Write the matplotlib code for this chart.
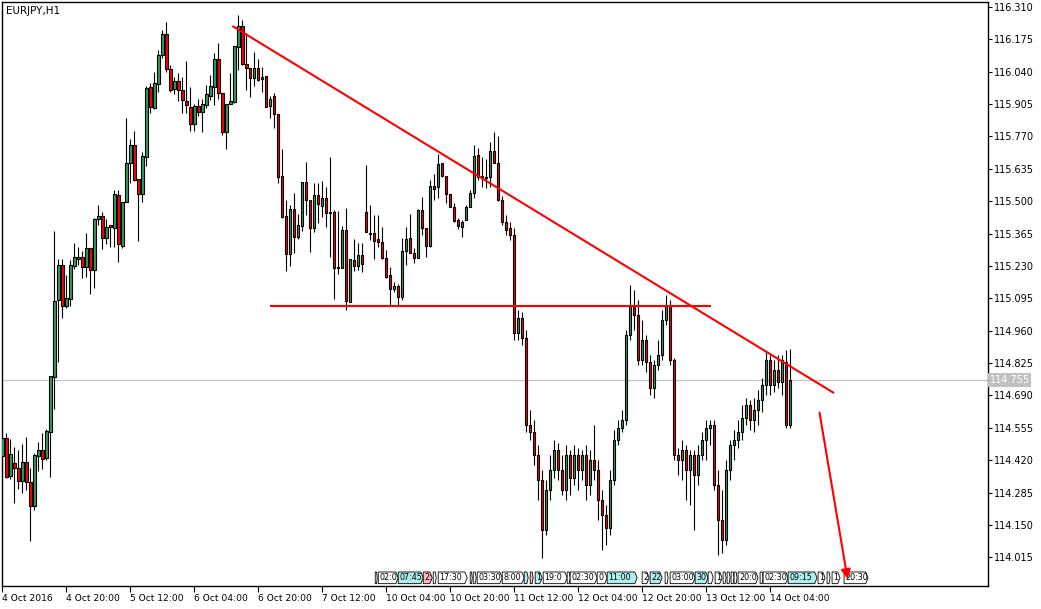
import numpy as np
import matplotlib.pyplot as plt
from matplotlib.patches import Polygon, FancyArrowPatch
import matplotlib.transforms as mtransforms

# EURJPY H1 candles, 4 Oct 2016 04:00 onwards
opens = [
    114.438, 114.513, 114.355, 114.409, 114.388, 114.334, 114.413, 114.330, 114.230, 114.438,
    114.463, 114.430, 114.538, 114.767, 115.088, 115.234, 115.063, 115.092, 115.230, 115.259,
    115.267, 115.226, 115.305, 115.213, 115.426, 115.438, 115.346, 115.401, 115.388, 115.526,
    115.313, 115.496, 115.659, 115.734, 115.592, 115.530, 115.684, 115.976, 115.888, 115.988,
    116.109, 116.196, 116.051, 115.967, 116.001, 115.963, 115.917, 115.892, 115.821, 115.896,
    115.871, 115.901, 115.938, 115.976, 116.092, 115.951, 115.788, 115.905, 115.913, 116.142,
    116.230, 116.071, 116.055, 116.013, 116.055, 116.009, 116.021, 115.896, 115.938, 115.863,
    115.605, 115.438, 115.280, 115.467, 115.351, 115.396, 115.580, 115.505, 115.388, 115.526,
    115.480, 115.513, 115.455, 115.455, 115.226, 115.221, 115.380, 115.080, 115.255, 115.230,
    115.276, 115.455, 115.367, 115.367, 115.342, 115.330, 115.263, 115.192, 115.134, 115.146,
    115.101, 115.292, 115.346, 115.284, 115.263, 115.463, 115.388, 115.313, 115.563, 115.559,
    115.659, 115.605, 115.530, 115.476, 115.421, 115.392, 115.421, 115.476, 115.534, 115.692,
    115.605, 115.601, 115.601, 115.709, 115.659, 115.505, 115.413, 115.388, 115.359, 114.951,
    115.013, 114.930, 114.567, 114.538, 114.442, 114.338, 114.130, 114.296, 114.380, 114.463,
    114.380, 114.296, 114.442, 114.346, 114.442, 114.380, 114.442, 114.317, 114.421, 114.380,
    114.255, 114.192, 114.138, 114.338, 114.505, 114.555, 114.588, 114.942, 115.067, 115.026,
    114.838, 114.921, 114.830, 114.721, 114.817, 114.859, 115.005, 115.067, 114.838, 114.442,
    114.421, 114.463, 114.380, 114.442, 114.359, 114.442, 114.505, 114.555, 114.567, 114.317,
    114.171, 114.088, 114.380, 114.484, 114.505, 114.538, 114.596, 114.651, 114.588, 114.630,
    114.671, 114.734, 114.838, 114.734, 114.796, 114.746, 114.830, 114.567,
]
highs = [
    114.534, 114.534, 114.509, 114.475, 114.463, 114.488, 114.517, 114.388, 114.450, 114.496,
    114.534, 114.550, 114.771, 115.375, 115.259, 115.259, 115.192, 115.255, 115.325, 115.309,
    115.292, 115.367, 115.305, 115.430, 115.484, 115.455, 115.426, 115.401, 115.546, 115.546,
    115.496, 115.846, 115.759, 115.792, 115.592, 115.705, 115.980, 115.992, 116.038, 116.130,
    116.213, 116.246, 116.067, 116.017, 116.034, 116.017, 116.084, 115.976, 115.905, 115.926,
    115.926, 115.984, 116.026, 116.117, 116.159, 115.951, 115.905, 116.034, 116.146, 116.276,
    116.255, 116.201, 116.055, 116.121, 116.092, 116.059, 116.021, 115.938, 115.951, 115.863,
    115.717, 115.505, 115.484, 115.534, 115.446, 115.580, 115.663, 115.505, 115.576, 115.576,
    115.584, 115.559, 115.684, 115.463, 115.459, 115.396, 115.471, 115.259, 115.342, 115.325,
    115.325, 115.651, 115.484, 115.442, 115.442, 115.392, 115.296, 115.226, 115.163, 115.155,
    115.346, 115.392, 115.446, 115.305, 115.467, 115.517, 115.388, 115.588, 115.613, 115.696,
    115.659, 115.605, 115.530, 115.492, 115.430, 115.421, 115.484, 115.546, 115.734, 115.721,
    115.684, 115.676, 115.746, 115.788, 115.771, 115.521, 115.442, 115.413, 115.388, 115.046,
    115.038, 114.963, 114.630, 114.588, 114.484, 114.380, 114.338, 114.442, 114.505, 114.492,
    114.442, 114.484, 114.463, 114.484, 114.471, 114.463, 114.484, 114.463, 114.567, 114.421,
    114.296, 114.234, 114.380, 114.546, 114.588, 114.630, 114.963, 115.151, 115.130, 115.088,
    115.005, 114.942, 114.859, 114.838, 114.921, 115.046, 115.109, 115.088, 114.846, 114.471,
    114.505, 114.484, 114.463, 114.463, 114.484, 114.538, 114.588, 114.588, 114.588, 114.380,
    114.296, 114.421, 114.505, 114.546, 114.588, 114.651, 114.680, 114.671, 114.680, 114.713,
    114.763, 114.871, 114.859, 114.838, 114.859, 114.859, 114.880, 114.884,
]
lows = [
    114.355, 114.346, 114.342, 114.242, 114.300, 114.284, 114.296, 114.084, 114.213, 114.375,
    114.384, 114.421, 114.350, 114.634, 114.830, 115.013, 115.055, 115.063, 115.217, 115.234,
    115.180, 115.184, 115.113, 115.138, 115.401, 115.301, 115.321, 115.309, 115.309, 115.246,
    115.305, 115.496, 115.576, 115.584, 115.334, 115.496, 115.646, 115.867, 115.884, 115.955,
    116.096, 116.038, 115.955, 115.946, 115.917, 115.867, 115.867, 115.792, 115.792, 115.855,
    115.788, 115.888, 115.921, 115.901, 115.926, 115.776, 115.717, 115.905, 115.909, 116.046,
    116.067, 115.963, 115.934, 115.980, 116.001, 115.955, 115.892, 115.846, 115.805, 115.576,
    115.430, 115.209, 115.230, 115.284, 115.342, 115.375, 115.442, 115.288, 115.371, 115.409,
    115.434, 115.392, 115.267, 115.092, 115.196, 115.221, 115.046, 115.080, 115.209, 115.213,
    115.205, 115.371, 115.338, 115.259, 115.309, 115.259, 115.180, 115.063, 115.121, 115.063,
    115.088, 115.234, 115.284, 115.242, 115.263, 115.359, 115.267, 115.309, 115.505, 115.513,
    115.601, 115.492, 115.476, 115.413, 115.384, 115.351, 115.421, 115.476, 115.513, 115.588,
    115.559, 115.555, 115.559, 115.659, 115.501, 115.401, 115.359, 115.338, 114.921, 114.921,
    114.901, 114.538, 114.505, 114.401, 114.255, 114.013, 114.109, 114.255, 114.346, 114.338,
    114.276, 114.255, 114.276, 114.317, 114.296, 114.338, 114.255, 114.276, 114.338, 114.171,
    114.046, 114.067, 114.109, 114.317, 114.484, 114.538, 114.567, 114.921, 114.963, 114.817,
    114.817, 114.788, 114.692, 114.680, 114.796, 114.838, 114.984, 114.817, 114.421, 114.359,
    114.338, 114.255, 114.234, 114.130, 114.317, 114.421, 114.421, 114.484, 114.296, 114.026,
    114.034, 114.067, 114.338, 114.421, 114.471, 114.505, 114.567, 114.546, 114.538, 114.567,
    114.621, 114.692, 114.692, 114.705, 114.721, 114.692, 114.555, 114.555,
]
closes = [
    114.513, 114.350, 114.446, 114.388, 114.334, 114.413, 114.330, 114.230, 114.442, 114.463,
    114.425, 114.542, 114.771, 115.084, 115.234, 115.063, 115.096, 115.234, 115.267, 115.267,
    115.226, 115.305, 115.213, 115.426, 115.438, 115.346, 115.392, 115.392, 115.530, 115.321,
    115.496, 115.659, 115.734, 115.588, 115.530, 115.688, 115.971, 115.892, 115.992, 116.109,
    116.196, 116.051, 115.963, 116.001, 115.963, 115.921, 115.901, 115.821, 115.896, 115.871,
    115.905, 115.946, 115.980, 116.092, 115.951, 115.788, 115.905, 115.917, 116.146, 116.230,
    116.071, 116.055, 116.013, 116.055, 116.005, 116.017, 115.892, 115.926, 115.863, 115.601,
    115.434, 115.280, 115.467, 115.351, 115.401, 115.580, 115.505, 115.388, 115.526, 115.488,
    115.513, 115.451, 115.451, 115.221, 115.221, 115.380, 115.084, 115.259, 115.230, 115.276,
    115.238, 115.371, 115.363, 115.334, 115.330, 115.263, 115.184, 115.134, 115.146, 115.101,
    115.292, 115.342, 115.284, 115.263, 115.463, 115.388, 115.313, 115.563, 115.551, 115.655,
    115.605, 115.530, 115.476, 115.417, 115.396, 115.413, 115.476, 115.534, 115.688, 115.601,
    115.601, 115.596, 115.709, 115.659, 115.505, 115.413, 115.380, 115.359, 114.951, 115.013,
    114.930, 114.567, 114.538, 114.442, 114.338, 114.130, 114.296, 114.380, 114.463, 114.380,
    114.296, 114.442, 114.346, 114.442, 114.380, 114.442, 114.317, 114.421, 114.380, 114.255,
    114.192, 114.138, 114.338, 114.505, 114.555, 114.588, 114.942, 115.067, 115.026, 114.838,
    114.921, 114.830, 114.721, 114.817, 114.859, 115.005, 115.067, 114.838, 114.442, 114.421,
    114.463, 114.380, 114.442, 114.359, 114.442, 114.505, 114.555, 114.567, 114.317, 114.171,
    114.088, 114.380, 114.484, 114.505, 114.538, 114.596, 114.651, 114.588, 114.630, 114.671,
    114.734, 114.838, 114.734, 114.796, 114.746, 114.838, 114.567, 114.755,
]

last_price = 114.755

# time axis labels (every 16 bars)
date_labels = ["4 Oct 2016", "4 Oct 20:00", "5 Oct 12:00", "6 Oct 04:00", "6 Oct 20:00",
               "7 Oct 12:00", "10 Oct 04:00", "10 Oct 20:00", "11 Oct 12:00", "12 Oct 04:00",
               "12 Oct 20:00", "13 Oct 12:00", "14 Oct 04:00"]

# price scale
price_ticks = [114.015, 114.150, 114.285, 114.420, 114.555, 114.690, 114.825, 114.960,
               115.095, 115.230, 115.365, 115.500, 115.635, 115.770, 115.905, 116.040,
               116.175, 116.310]

# drawn objects (bar index, price)
trend_line = ([57.5, 208.0], [116.230, 114.700])
support_line = ([67.0, 177.25], [115.064, 115.064])
arrow_from = (204.25, 114.630)
arrow_to = (211.5, 113.913)

# calendar events along the bottom: start bar, end bar, visible text, kind
event_start = [93.25, 94.0, 99.0, 105.25, 107.75, 109.0, 117.0, 117.75, 118.75, 125.0,
               130.5, 132.0, 133.25, 135.25, 141.25, 142.0, 148.75, 151.25, 160.0, 162.0,
               165.75, 167.0, 173.25, 176.5, 178.25, 180.25, 181.25, 182.25, 183.0, 184.0,
               189.5, 190.25, 196.5, 204.0, 206.25, 207.5, 210.5]
event_end = [93.75, 99.0, 105.25, 107.5, 108.5, 116.25, 117.5, 118.5, 125.0, 130.5,
             131.5, 132.75, 135.0, 141.25, 142.0, 148.75, 151.25, 158.75, 161.75, 165.0,
             166.5, 173.25, 176.5, 177.75, 180.0, 181.0, 182.0, 183.0, 183.75, 189.0,
             190.25, 196.5, 203.75, 205.75, 207.0, 209.5, 216.5]
event_text = ["", "02:0", "07:45", "2:", "", "17:30", "", "", "03:30", "8:00",
              "", "", "1", "19:0", "", "02:30", "0", "11:00", "2", "22",
              "", "03:00", "30", "", "1", "", "", "", "", "20:0",
              "", "02:30", "09:15", "1", "", "1", "20:30"]
event_kind = ["w", "w", "c", "p", "w", "w", "w", "w", "w", "w",
              "c", "p", "c", "w", "w", "w", "w", "c", "w", "c",
              "w", "w", "c", "w", "w", "w", "w", "w", "w", "w",
              "w", "w", "c", "w", "w", "w", "w"]
kind_colors = {"w": "white", "c": "#afeeee", "p": "#ffb6c1"}


def main():
    o = np.array(opens)
    h = np.array(highs)
    l = np.array(lows)
    c = np.array(closes)
    x = np.arange(len(o))

    fig = plt.figure(figsize=(10.41, 6.09), dpi=100)
    ax = fig.add_axes([2 / 1041, 23 / 609, 986 / 1041, 584 / 609])

    # bid line
    ax.axhline(last_price, color="#c0c0c0", lw=0.8, zorder=1)

    # candles
    colors = np.where(c >= o, "#2e9e5b", "#ff0000")
    ax.vlines(x, l, h, color="black", lw=0.8, zorder=2)
    ax.bar(x, c - o, bottom=o, width=0.6, color=colors, edgecolor="black",
           linewidth=0.8, zorder=3)

    # trend lines
    ax.plot(*trend_line, color="#ff0000", lw=1.5, zorder=4, solid_capstyle="butt")
    ax.plot(*support_line, color="#ff0000", lw=1.5, zorder=4, solid_capstyle="butt")
    arr = FancyArrowPatch(arrow_from, arrow_to, arrowstyle="-|>", mutation_scale=14,
                          color="#ff0000", lw=1.5, zorder=6)
    ax.add_patch(arr)

    # calendar event boxes
    tr = ax.get_xaxis_transform()
    y0, y1 = 0.004, 0.024
    ym = (y0 + y1) / 2
    for xs, xe, txt, k in zip(event_start, event_end, event_text, event_kind):
        tip = min(0.6, (xe - xs) / 3)
        poly = Polygon([(xs, y0), (xe - tip, y0), (xe, ym), (xe - tip, y1), (xs, y1)],
                       closed=True, facecolor=kind_colors[k], edgecolor="black",
                       lw=0.6, transform=tr, zorder=5)
        ax.add_patch(poly)
        if txt:
            t = ax.text(xs + 0.3, ym, txt, transform=tr, fontsize=5.8, va="center",
                        ha="left", zorder=5.5)
            t.set_clip_path(poly)

    ax.set_xlim(-0.1, 246.5)
    ax.set_ylim(113.896, 116.330)

    # axes styling like the terminal
    for s in ax.spines.values():
        s.set_color("black")
        s.set_linewidth(1.0)

    ax.yaxis.tick_right()
    ax.set_yticks(price_ticks)
    ax.set_yticklabels([f"{p:.3f}" for p in price_ticks])
    ax.tick_params(axis="y", direction="out", length=3, width=0.8, pad=1.5,
                   labelsize=7, right=True, left=False)

    ax.set_xticks(np.arange(len(date_labels)) * 16)
    ax.set_xticklabels(date_labels)
    ax.tick_params(axis="x", direction="out", length=4, width=0.8, pad=1.5, labelsize=6.6)
    for lab in ax.get_xticklabels():
        lab.set_ha("left")

    # last price tag on the scale
    blend = mtransforms.blended_transform_factory(ax.transAxes, ax.transData)
    ax.text(1.0015, last_price, f"{last_price:.3f}", transform=blend, fontsize=7,
            color="white", va="center", ha="left",
            bbox=dict(facecolor="#c0c0c0", edgecolor="none", pad=1.2), clip_on=False)

    ax.text(0.004, 0.993, "EURJPY,H1", transform=ax.transAxes, fontsize=7.5,
            va="top", ha="left")

    fig.savefig("out.png", dpi=100)


if __name__ == "__main__":
    main()
